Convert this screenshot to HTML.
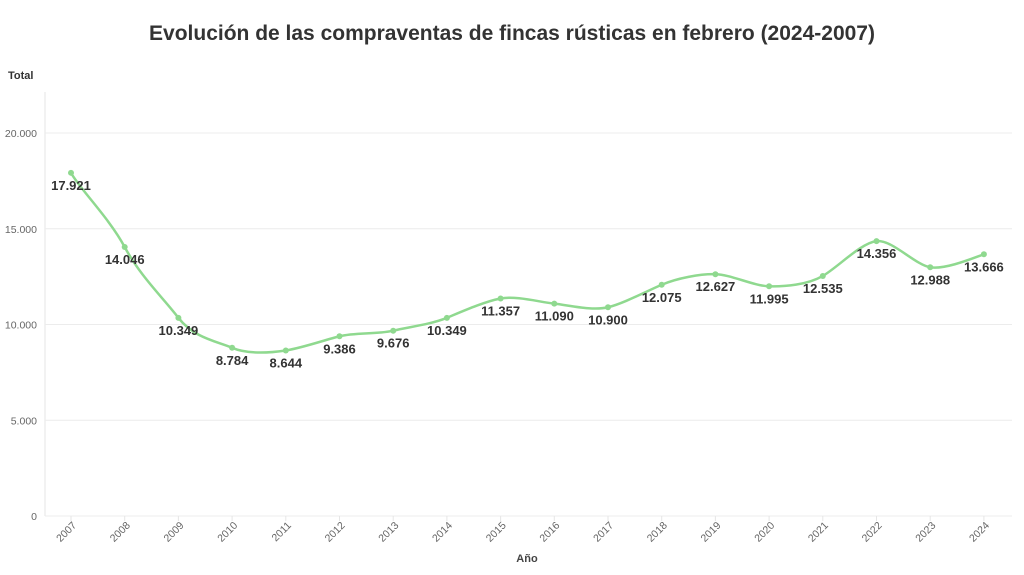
<!DOCTYPE html>
<html><head><meta charset="utf-8"><style>
body{margin:0;background:#fff;width:1024px;height:570px;overflow:hidden;font-family:"Liberation Sans",sans-serif}
</style></head><body>
<svg id="s" width="1024" height="570" xmlns="http://www.w3.org/2000/svg">
<text x="512" y="40" text-anchor="middle" font-size="21" font-weight="bold" fill="#333">Evolución de las compraventas de fincas rústicas en febrero (2024-2007)</text>
<text x="8" y="79" font-size="11" font-weight="bold" fill="#333">Total</text>
<text x="527" y="562" text-anchor="middle" font-size="11" font-weight="bold" fill="#444">Año</text>
<line x1="45" y1="92" x2="45" y2="516" stroke="#e6e6e6"/>
<g id="g"></g>
</svg>
<script>
const s=document.getElementById('g');let h='';
const ns=[0,5000,10000,15000,20000],lab=['0','5.000','10.000','15.000','20.000'];
ns.forEach((v,i)=>{const y=516-v*0.01915;h+=`<line x1="45" y1="${y}" x2="1012" y2="${y}" stroke="#ececec"/><text x="37" y="${y+4}" text-anchor="end" font-size="10.5" fill="#666">${lab[i]}</text>`});
const d=[17921,14046,10349,8784,8644,9386,9676,10349,11357,11090,10900,12075,12627,11995,12535,14356,12988,13666];
const P=d.map((v,i)=>[71+i*53.7,516-v*0.01915]);
P.forEach((p,i)=>{h+=`<line x1="${p[0]}" y1="516" x2="${p[0]}" y2="521" stroke="#e6e6e6"/><text transform="translate(${p[0]+6},526) rotate(-45)" text-anchor="end" font-size="10.5" fill="#666">${2007+i}</text>`});
let path=`M${P[0][0]},${P[0][1]}`;
for(let i=0;i<P.length-1;i++){const p0=P[Math.max(0,i-1)],p1=P[i],p2=P[i+1],p3=P[Math.min(P.length-1,i+2)];const t=0.24;
path+=` C${p1[0]+(p2[0]-p0[0])*t/2*1.2},${p1[1]+(p2[1]-p0[1])*t/1.2} ${p2[0]-(p3[0]-p1[0])*t/2*1.2},${p2[1]-(p3[1]-p1[1])*t/1.2} ${p2[0]},${p2[1]}`;}
h+=`<path d="${path}" fill="none" stroke="#8fd98f" stroke-width="2.5"/>`;
P.forEach((p,i)=>{h+=`<circle cx="${p[0]}" cy="${p[1]}" r="3" fill="#8fd98f"/><text x="${p[0]}" y="${p[1]+17}" text-anchor="middle" font-size="13" font-weight="bold" fill="#333">${d[i].toLocaleString('de-DE')}</text>`});
s.innerHTML=h;
</script>
</body></html>
